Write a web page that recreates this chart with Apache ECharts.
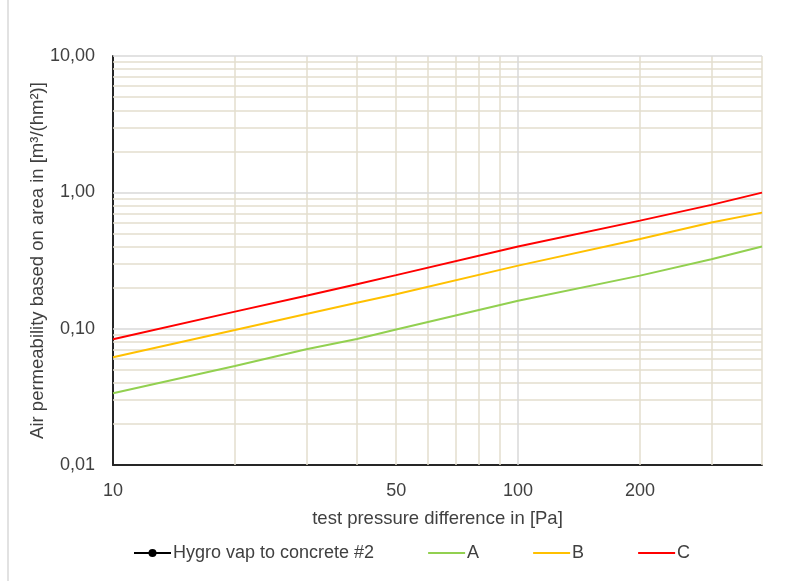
<!DOCTYPE html>
<html>
<head>
<meta charset="utf-8">
<script src="https://cdn.jsdelivr.net/npm/echarts@6/dist/echarts.min.js"></script>
<style>html,body{margin:0;padding:0;background:#fff;}#c{width:795px;height:581px;}</style>
</head>
<body>
<div id="c"></div>
<script>
// ---- data ----
const pressure = [10, 20, 30, 40, 50, 100, 200, 300, 400];
const seriesA = [0.0336, 0.0533, 0.0706, 0.0840, 0.0985, 0.160, 0.245, 0.323, 0.400];
const seriesB = [0.0617, 0.0977, 0.128, 0.155, 0.179, 0.290, 0.455, 0.600, 0.710];
const seriesC = [0.0836, 0.1334, 0.1746, 0.212, 0.247, 0.400, 0.620, 0.809, 0.995];
const measured = []; // Hygro vap to concrete #2 (no points visible)
const xTickLabels = [10, 50, 100, 200];
const xMajorGrid = [100];
const xMinorGrid = [20, 30, 40, 50, 60, 70, 80, 90, 200, 300, 400];
const yMajorGrid = [0.1, 1, 10];
const yMinorGrid = [0.02,0.03,0.04,0.05,0.06,0.07,0.08,0.09,0.2,0.3,0.4,0.5,0.6,0.7,0.8,0.9,2,3,4,5,6,7,8,9];

const font = 'Liberation Sans, Arial, sans-serif';
const txt = '#404040';
const minorColor = '#e3dece';
const majorColor = '#d9d9d9';

function pairs(xs, ys){ return xs.map((x,i)=>[x, ys[i]]); }
function gridLines(vals, key, color){
  return vals.map(v => ({ [key]: v, lineStyle: { color: color, width: 1.5, type: 'solid' } }));
}

const chart = echarts.init(document.getElementById('c'), null, {renderer: 'canvas'});
chart.setOption({
  animation: false,
  backgroundColor: '#fff',
  textStyle: { fontFamily: font },
  grid: { left: 113, right: 33, top: 56, bottom: 116, containLabel: false },
  xAxis: {
    type: 'log', logBase: 10, min: 10, max: 400,
    name: 'test pressure difference in [Pa]', nameLocation: 'middle', nameGap: 44,
    nameMoveOverlap: false,
    nameTextStyle: { color: txt, fontSize: 18.5, fontFamily: font },
    axisLine: { show: true, lineStyle: { color: '#262626', width: 2 } },
    axisTick: { show: false },
    splitLine: { show: false },
    minorSplitLine: { show: false },
    axisLabel: {
      customValues: xTickLabels,
      color: txt, fontSize: 18, fontFamily: font, margin: 17,
      formatter: v => String(Math.round(v))
    }
  },
  yAxis: {
    type: 'log', logBase: 10, min: 0.01, max: 10,
    name: 'Air permeability based on area in [m³/(hm²)]', nameLocation: 'middle', nameGap: 66,
    nameMoveOverlap: false,
    nameTextStyle: { color: txt, fontSize: 18.5, fontFamily: font },
    axisLine: { show: true, lineStyle: { color: '#262626', width: 2 } },
    axisTick: { show: false },
    splitLine: { show: false },
    axisLabel: {
      color: txt, fontSize: 18, fontFamily: font, margin: 18,
      formatter: v => v.toFixed(2).replace('.', ',')
    }
  },
  legend: {
    left: 128, top: 539,
    itemWidth: 37, itemHeight: 10, itemGap: 53,
    textStyle: { color: txt, fontSize: 18, fontFamily: font, padding: [0,0,0,-3] },
    data: [
      { name: 'Hygro vap to concrete #2' },
      { name: 'A', itemStyle: { opacity: 0 } },
      { name: 'B', itemStyle: { opacity: 0 } },
      { name: 'C', itemStyle: { opacity: 0 } }
    ]
  },
  graphic: [{
    type: 'line', shape: { x1: 8, y1: 0, x2: 8, y2: 581 },
    style: { stroke: '#d9d9d9', lineWidth: 1.5 }, silent: true
  }],
  series: [
    {
      name: 'grid', type: 'line', data: [], z: 1, silent: true,
      markLine: {
        silent: true, symbol: ['none','none'], animation: false,
        label: { show: false },
        data: [].concat(
          gridLines(xMinorGrid, 'xAxis', minorColor),
          gridLines(yMinorGrid, 'yAxis', minorColor),
          gridLines(xMajorGrid, 'xAxis', majorColor),
          gridLines(yMajorGrid, 'yAxis', majorColor)
        )
      }
    },
    {
      name: 'Hygro vap to concrete #2', type: 'line', data: measured, z: 5,
      symbol: 'circle', symbolSize: 7, itemStyle: { color: '#000' },
      lineStyle: { color: '#000', width: 2 }
    },
    { name: 'A', type: 'line', data: pairs(pressure, seriesA), z: 5, symbol: 'none',
      itemStyle: { color: '#92d050' }, lineStyle: { color: '#92d050', width: 2 } },
    { name: 'B', type: 'line', data: pairs(pressure, seriesB), z: 5, symbol: 'none',
      itemStyle: { color: '#ffc000' }, lineStyle: { color: '#ffc000', width: 2 } },
    { name: 'C', type: 'line', data: pairs(pressure, seriesC), z: 5, symbol: 'none',
      itemStyle: { color: '#ff0000' }, lineStyle: { color: '#ff0000', width: 2 } }
  ]
});
</script>
</body>
</html>
